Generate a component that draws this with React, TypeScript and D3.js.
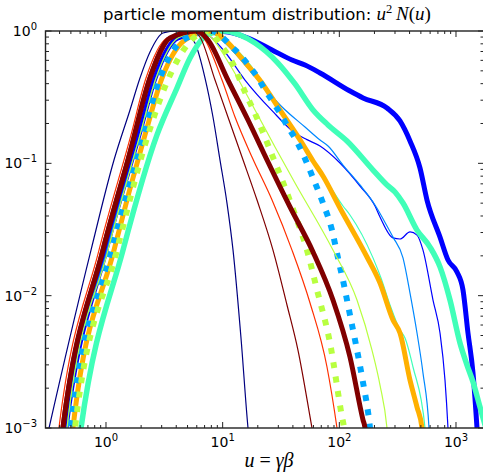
import React from "react";
import * as d3 from "d3";

// ---- data (u, u^2 N(u)) ----
const navyThin: [number, number][] = [
  [0.307, 0.0008], [0.325, 0.001], [0.744, 0.0221], [1.171, 0.1059], [1.606, 0.253], [1.956, 0.441],
  [2.383, 0.694], [3.081, 0.966], [4.06, 1.0], [4.85, 0.949], [5.79, 0.811], [7.06, 0.441],
  [8.26, 0.224], [9.49, 0.1059], [10.89, 0.0501], [12.27, 0.0221], [14.36, 0.00479], [16.49, 0.001], [16.9, 0.0008],
];
const blueThick: [number, number][] = [
  [0.44, 0.0008], [0.454, 0.001], [1.0, 0.0221], [1.918, 0.164], [2.63, 0.441], [4.14, 0.885], [8.6, 1.0],
  [11.1, 0.983], [16.49, 0.885], [26.5, 0.718], [39.3, 0.604], [50.8, 0.553], [68.3, 0.482], [123.4, 0.352],
  [159.6, 0.312], [256.2, 0.262], [331.1, 0.209], [403.5, 0.1475], [491.3, 0.0922], [564.2, 0.0528],
  [729.4, 0.0277], [853.9, 0.0186], [1020, 0.0151], [1148, 0.01104], [1267, 0.00522], [1399, 0.0026],
  [1514, 0.001], [1540, 0.0008],
];
const blueThin: [number, number][] = [
  [0.424, 0.0008], [0.437, 0.001], [0.98, 0.0221], [1.844, 0.164], [2.528, 0.441], [3.903, 0.885], [6.78, 1.0],
  [8.1, 0.885], [10.47, 0.694], [15.54, 0.426], [26.5, 0.25], [41.7, 0.1696], [52.8, 0.151], [68.3, 0.1352],
  [101.3, 0.1006], [150.4, 0.0674], [202.2, 0.0476], [223.2, 0.0393], [288.4, 0.0273], [331.1, 0.0268],
  [403.5, 0.0303], [463.3, 0.0287], [521.4, 0.0221], [635.2, 0.00927], [729.4, 0.00522], [804.9, 0.0023],
  [853.9, 0.001], [865, 0.0008],
];
const aquaThick: [number, number][] = [
  [0.59, 0.0008], [0.611, 0.001], [1.399, 0.0221], [2.736, 0.164], [4.06, 0.371], [5.25, 0.625], [7.34, 0.933],
  [10.47, 1.0], [14.08, 0.933], [18.93, 0.811], [29.8, 0.573], [41.7, 0.398], [59.5, 0.253], [80.0, 0.195],
  [116.3, 0.1475], [194.4, 0.089], [256.2, 0.0686], [300.0, 0.0607], [351.3, 0.0501], [463.3, 0.0313],
  [598.6, 0.0233], [729.4, 0.0165], [888.4, 0.00927], [1082, 0.00439], [1243, 0.00299], [1399, 0.00223],
  [1606, 0.00144], [1844, 0.000933],
];
const lightBlueThin: [number, number][] = [
  [0.45, 0.0008], [0.463, 0.001], [1.02, 0.0221], [1.956, 0.164], [2.683, 0.441], [4.14, 0.885], [7.34, 1.0],
  [9.87, 0.855], [12.02, 0.718], [20.1, 0.426], [32.3, 0.2665], [50.8, 0.188], [68.3, 0.15], [80.0, 0.1352],
  [107.5, 0.0971], [150.4, 0.0686], [202.2, 0.0484], [256.2, 0.0336], [288.4, 0.0277], [351.3, 0.0193],
  [403.5, 0.01047], [463.3, 0.00522], [521.4, 0.0026], [587, 0.001], [595, 0.0008],
];
const aquaThin: [number, number][] = [
  [0.497, 0.0008], [0.511, 0.001], [1.148, 0.0221], [2.117, 0.164], [2.961, 0.441], [4.66, 0.855], [7.79, 1.0],
  [11.1, 0.826], [16.49, 0.583], [24.5, 0.358], [34.2, 0.232], [46.0, 0.155], [58.3, 0.1116], [72.4, 0.0816],
  [107.5, 0.0476], [123.4, 0.0407], [194.4, 0.0193], [227.6, 0.0136], [271.9, 0.0085], [331.1, 0.0055],
  [365.5, 0.00479], [428, 0.00289], [542.5, 0.001], [555, 0.0008],
];
const orangeThick: [number, number][] = [
  [0.507, 0.0008], [0.521, 0.001], [1.171, 0.0221], [2.159, 0.164], [3.02, 0.441], [4.75, 0.855], [7.79, 1.0],
  [10.47, 0.855], [14.94, 0.604], [21.7, 0.405], [29.8, 0.2665], [47.9, 0.1424], [59.5, 0.1041], [72.4, 0.0802],
  [101.3, 0.046], [172.7, 0.0196], [223.2, 0.01246], [288.4, 0.00655], [331.1, 0.00522], [403.5, 0.0023],
  [463.3, 0.00144], [511.2, 0.001], [525, 0.0008],
];
const blueDotted: [number, number][] = [
  [0.477, 0.0008], [0.491, 0.001], [1.1, 0.0221], [2.076, 0.164], [2.903, 0.441], [4.57, 0.855], [8.1, 1.0],
  [9.87, 0.901], [12.02, 0.757], [14.08, 0.659], [17.15, 0.534], [20.1, 0.441], [23.1, 0.358], [27.0, 0.291],
  [31.0, 0.24], [36.3, 0.188], [41.7, 0.155], [47.9, 0.1218], [59.5, 0.0775], [72.4, 0.0501], [86.5, 0.0313],
  [97.4, 0.0193], [109.6, 0.01204], [123.4, 0.00714], [139.0, 0.00424], [156.5, 0.00243], [183.2, 0.001],
  [188, 0.0008],
];
const yellowGreenThin: [number, number][] = [
  [0.45, 0.0008], [0.463, 0.001], [1.04, 0.0221], [1.956, 0.164], [2.683, 0.441], [4.14, 0.885], [6.78, 1.0],
  [8.6, 0.826], [11.56, 0.553], [18.93, 0.253], [28.1, 0.1329], [41.7, 0.071], [88.2, 0.0221], [141.7, 0.00927],
  [190.5, 0.00388], [223.2, 0.00211], [256.2, 0.001], [262, 0.0008],
];
const greenDotted: [number, number][] = [
  [0.527, 0.0008], [0.542, 0.001], [1.243, 0.0221], [2.291, 0.164], [3.333, 0.412], [4.75, 0.744], [7.49, 1.0],
  [9.49, 0.798], [12.02, 0.583], [15.54, 0.346], [19.7, 0.22], [26.5, 0.1156], [32.3, 0.0748], [40.9, 0.0429],
  [52.8, 0.0221], [64.4, 0.01104], [83.2, 0.00439], [105.4, 0.00121], [109.6, 0.001], [112, 0.0008],
];
const redThin: [number, number][] = [
  [0.383, 0.0008], [0.395, 0.001], [0.871, 0.0221], [1.638, 0.164], [2.203, 0.441], [3.333, 0.885], [5.46, 1.0],
  [6.78, 0.901], [9.87, 0.426], [12.76, 0.224], [17.84, 0.1116], [26.5, 0.0528], [39.3, 0.0221], [56.1, 0.0088],
  [78.4, 0.00289], [95.5, 0.001], [99, 0.0008],
];
const maroonThin: [number, number][] = [
  [0.398, 0.0008], [0.411, 0.001], [0.906, 0.0221], [1.703, 0.164], [2.291, 0.441], [3.4, 0.885], [5.46, 1.0],
  [6.39, 0.901], [8.6, 0.426], [11.1, 0.224], [14.65, 0.1116], [19.7, 0.0528], [27.0, 0.0221], [35.6, 0.0085],
  [44.2, 0.00388], [58.3, 0.001], [61, 0.0008],
];
const maroonThick: [number, number][] = [
  [0.415, 0.0008], [0.428, 0.001], [0.943, 0.0221], [1.544, 0.1059], [2.383, 0.441], [3.537, 0.885], [6.03, 1.0],
  [7.49, 0.855], [11.1, 0.426], [16.49, 0.2126], [24.47, 0.1023], [37.77, 0.0468], [59.5, 0.0214], [88.2, 0.00927],
  [123.4, 0.00344], [159.6, 0.00115], [166, 0.001], [170, 0.0008],
];

const xMajorTicks = [1, 10, 100, 1000];
const xTickExponents = ["0", "1", "2", "3"];
const yMajorTicks = [1, 0.1, 0.01, 0.001];
const yTickExponents = ["0", "\u22121", "\u22122", "\u22123"];

type Series = { data: [number, number][]; color: string; width: number; dash?: string };
const seriesList: Series[] = [
  { data: navyThin, color: "#000080", width: 1.2 },
  { data: blueThick, color: "#0000ff", width: 5 },
  { data: blueThin, color: "#0000ff", width: 1.2 },
  { data: aquaThick, color: "#40ffb8", width: 5.5 },
  { data: lightBlueThin, color: "#0088ff", width: 1.2 },
  { data: aquaThin, color: "#40ffb8", width: 1.2 },
  { data: orangeThick, color: "#ffb000", width: 5 },
  { data: blueDotted, color: "#00a8ff", width: 6, dash: "6 8.5" },
  { data: yellowGreenThin, color: "#b8ff40", width: 1.2 },
  { data: greenDotted, color: "#b8ff40", width: 6, dash: "6 8.5" },
  { data: redThin, color: "#ff3000", width: 1.2 },
  { data: maroonThin, color: "#800000", width: 1.2 },
  { data: maroonThick, color: "#800000", width: 5 },
];

const W = 483, H = 475;
const L = 45.5, R = 484, T = 31, B = 428;

export default function App() {
  const x = d3.scaleLog().domain([0.303, 1738]).range([L, R]);
  const y = d3.scaleLog().domain([1e-3, 1]).range([B, T]);
  const line = d3
    .line<[number, number]>()
    .x((d) => x(d[0]))
    .y((d) => y(d[1]))
    .curve(d3.curveMonotoneX);

  const xMinor: number[] = [];
  [0.1, 1, 10, 100, 1000].forEach((dec) => {
    for (let k = 2; k <= 9; k++) {
      const v = dec * k;
      if (v > 0.303 && v < 1738) xMinor.push(v);
    }
  });
  const yMinor: number[] = [];
  [0.001, 0.01, 0.1].forEach((dec) => {
    for (let k = 2; k <= 9; k++) yMinor.push(dec * k);
  });

  const tickColor = "#222";
  const serif = "'Liberation Serif', 'DejaVu Serif', serif";
  const sans = "'DejaVu Sans', sans-serif";

  return (
    <svg width={W} height={H} style={{ position: "absolute", left: 0, top: 0, background: "#fff" }}>
      <defs>
        <clipPath id="plotClip">
          <rect x={L} y={T} width={R - L} height={B - T} />
        </clipPath>
      </defs>
      <rect x={0} y={0} width={W} height={H} fill="#fff" />
      <g clipPath="url(#plotClip)">
        {seriesList.map((s, i) => (
          <path
            key={i}
            d={line(s.data) || ""}
            fill="none"
            stroke={s.color}
            strokeWidth={s.width}
            strokeDasharray={s.dash}
            strokeLinecap="butt"
            strokeLinejoin="round"
          />
        ))}
      </g>
      {/* ticks */}
      <g stroke={tickColor} strokeWidth={1}>
        {xMajorTicks.map((v) => (
          <g key={"xM" + v}>
            <line x1={x(v)} x2={x(v)} y1={B} y2={B - 6} />
            <line x1={x(v)} x2={x(v)} y1={T} y2={T + 6} />
          </g>
        ))}
        {xMinor.map((v) => (
          <g key={"xm" + v}>
            <line x1={x(v)} x2={x(v)} y1={B} y2={B - 3} />
            <line x1={x(v)} x2={x(v)} y1={T} y2={T + 3} />
          </g>
        ))}
        {yMajorTicks.map((v) => (
          <g key={"yM" + v}>
            <line x1={L} x2={L + 6} y1={y(v)} y2={y(v)} />
            <line x1={R} x2={R - 6} y1={y(v)} y2={y(v)} />
          </g>
        ))}
        {yMinor.map((v) => (
          <g key={"ym" + v}>
            <line x1={L} x2={L + 3.5} y1={y(v)} y2={y(v)} />
            <line x1={R} x2={R - 3.5} y1={y(v)} y2={y(v)} />
          </g>
        ))}
      </g>
      <rect x={L} y={T} width={R - L} height={B - T} fill="none" stroke={tickColor} strokeWidth={1.4} />
      {/* tick labels */}
      {xMajorTicks.map((v, i) => (
        <text key={"xl" + v} x={x(v)} y={447} textAnchor="middle" fontFamily={sans} fontSize={14} fill="#000">
          10
          <tspan fontSize={10} dy={-6}>{xTickExponents[i]}</tspan>
        </text>
      ))}
      {yMajorTicks.map((v, i) => (
        <text key={"yl" + v} x={37} y={y(v) + 5} textAnchor="end" fontFamily={sans} fontSize={14} fill="#000">
          10
          <tspan fontSize={10} dy={-6}>{yTickExponents[i]}</tspan>
        </text>
      ))}
      {/* title */}
      <text x={267} y={20} textAnchor="middle" fontFamily={sans} fontSize={16.5} fill="#000">
        {"particle momentum distribution: "}
        <tspan fontFamily={serif} fontStyle="italic" fontSize={19}>u</tspan>
        <tspan fontFamily={serif} fontSize={12.5} dy={-7}>2</tspan>
        <tspan fontFamily={serif} fontStyle="italic" fontSize={19} dy={7}>{"\u2009N"}</tspan>
        <tspan fontFamily={serif} fontSize={19}>(</tspan>
        <tspan fontFamily={serif} fontStyle="italic" fontSize={19}>u</tspan>
        <tspan fontFamily={serif} fontSize={19}>)</tspan>
      </text>
      {/* x label */}
      <text x={269} y={467} textAnchor="middle" fontFamily={serif} fontSize={20} fill="#000">
        <tspan fontStyle="italic">u</tspan>
        <tspan>{" = "}</tspan>
        <tspan fontStyle="italic">{"\u03b3\u03b2"}</tspan>
      </text>
    </svg>
  );
}
